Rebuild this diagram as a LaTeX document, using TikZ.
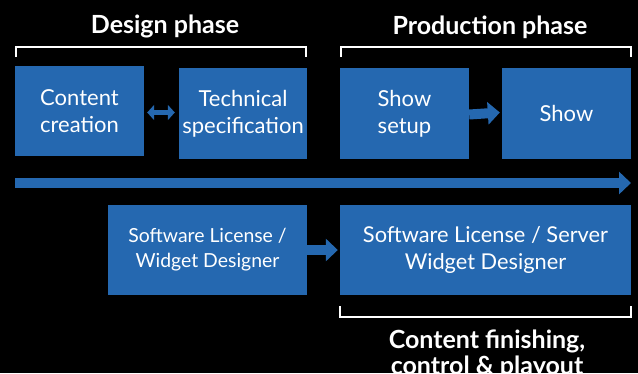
\documentclass[tikz,border=0pt]{standalone}
\usepackage{fontspec}
\setmainfont{Lato}
\usetikzlibrary{positioning,calc,arrows.meta}
\definecolor{boxblue}{RGB}{37,104,176}

\tikzset{
    phasebox/.style={fill=boxblue, text=white, minimum width=#1, minimum height=90pt, inner sep=0pt, align=center, font=\fontsize{22}{27}\selectfont},
    phasebox/.default=129pt,
    heading/.style={text=white, font=\bfseries\fontsize{25}{26}\selectfont, align=center},
    bracket/.style={draw=white, line width=1.8pt},
    flow/.style={draw=boxblue, line width=10pt, -{Triangle[length=12pt,width=22pt]}},
    link/.style={draw=boxblue, line width=5pt, {Triangle[length=7pt,width=15pt]}-{Triangle[length=7pt,width=15pt]}}
}

\begin{document}
\begin{tikzpicture}[x=1pt, y=-1pt]
        \fill[black] (0,0) rectangle (638,373);
        \useasboundingbox (0,0) rectangle (638,373);

        % design phase
        \node [phasebox] (cc) at (79.5,111) {Content\\creation};
        \node [phasebox=128pt, minimum height=91pt] (ts) at (243,113.5) {Technical\\specification};
        \draw [link] ([shift={(3,1.5)}]cc.east) -- ([shift={(-4,-1)}]ts.west);
        \node [heading] (dp) at (165,26) {Design phase};
        \draw [bracket] (16,57) -- (16,47) -- (306,47) -- (306,57);

        % production phase
        \node [phasebox, minimum height=91pt] (ss) at (404.5,113.5) {Show\\setup};
        \node [phasebox, minimum height=91pt] (sh) at (566.5,113.5) {Show};
        \draw [flow] ([yshift=-1pt]ss.east) -- ([shift={(-2,-1)}]sh.west);
        \node [heading] (pp) at (490,27) {Production phase};
        \draw [bracket] (341,57) -- (341,47) -- (631,47) -- (631,57);

        % timeline
        \coordinate (t0) at (15,183);
        \coordinate (t1) at (631,183);
        \draw [flow, line width=10.5pt] (t0) -- (t1);

        % tools
        \node [phasebox=199pt, font=\fontsize{19.4}{25}\selectfont] (wd) at (207.5,250) {Software License /\\Widget Designer};
        \node [phasebox=291pt, font=\fontsize{21.8}{26.5}\selectfont] (sv) at (485.5,250) {Software License / Server\\Widget Designer};
        \draw [flow] (wd.east) -- ([xshift=-2pt]sv.west);
        \draw [bracket] (340,306) -- (340,317) -- (631,317) -- (631,306);
        \node [heading] (cf) at (487,354) {Content finishing,\\control \& playout};
    \end{tikzpicture}
\end{document}
